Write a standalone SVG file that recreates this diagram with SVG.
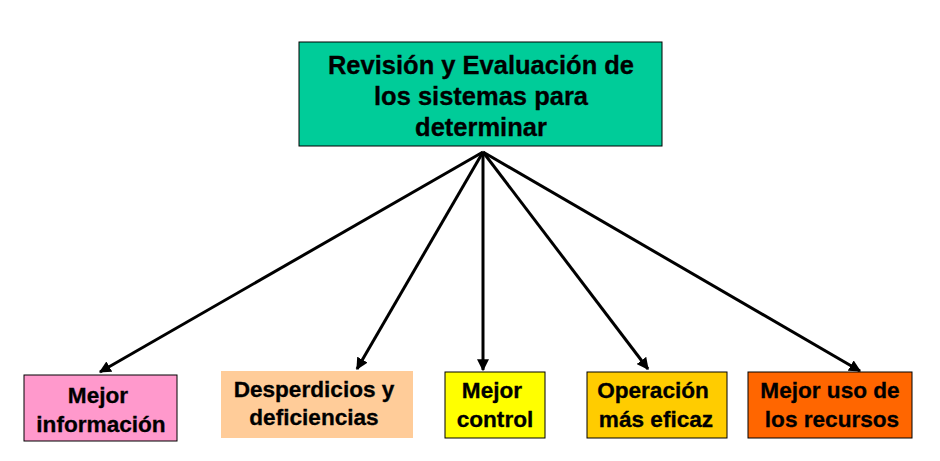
<svg xmlns="http://www.w3.org/2000/svg" width="940" height="461" viewBox="0 0 940 461">
<style>
text{font-family:"Liberation Sans",Arial,sans-serif;font-weight:bold;fill:#000;text-anchor:middle;stroke:#000;stroke-width:0.3}
.t{font-size:25.5px}
.b{font-size:22.6px}
.box{stroke:#000;stroke-width:1}
.c{stroke:#000;stroke-width:3;fill:none;marker-end:url(#ah)}
</style>
<defs>
<marker id="ah" markerWidth="4" markerHeight="4" refX="3.6" refY="2" orient="auto" markerUnits="strokeWidth">
<path d="M0,0 L4,2 L0,4 Z" fill="#000"/>
</marker>
</defs>
<rect width="940" height="461" fill="#fff"/>
<g id="connectors">
<line class="c" x1="483" y1="152" x2="100" y2="372"/>
<line class="c" x1="483" y1="152" x2="357" y2="369"/>
<line class="c" x1="483" y1="152" x2="483" y2="370"/>
<line class="c" x1="483" y1="152" x2="648" y2="369"/>
<line class="c" x1="483" y1="152" x2="860" y2="371"/>
</g>
<g id="top">
<rect class="box" x="299" y="42" width="363" height="104" fill="#00CC99"/>
<text class="t" x="481" y="74">Revisión y Evaluación de</text>
<text class="t" x="481" y="105">los sistemas para</text>
<text class="t" x="481" y="136">determinar</text>
</g>
<g id="n1">
<rect class="box" x="24" y="375" width="153" height="66" fill="#FF99CC"/>
<text class="b" x="98" y="403">Mejor</text>
<text class="b" x="101" y="432">información</text>
</g>
<g id="n2">
<rect x="221" y="371" width="192" height="67" fill="#FFCC99"/>
<text class="b" x="314" y="397">Desperdicios y</text>
<text class="b" x="314" y="425">deficiencias</text>
</g>
<g id="n3">
<rect class="box" x="445" y="372" width="100" height="66" fill="#FFFF00"/>
<text class="b" x="492" y="398">Mejor</text>
<text class="b" x="495" y="427">control</text>
</g>
<g id="n4">
<rect class="box" x="587" y="372" width="140" height="66" fill="#FFCC00"/>
<text class="b" x="653" y="398">Operación</text>
<text class="b" x="656" y="427">más eficaz</text>
</g>
<g id="n5">
<rect class="box" x="748" y="372" width="164" height="66" fill="#FF6600"/>
<text class="b" x="830" y="398">Mejor uso de</text>
<text class="b" x="832" y="427">los recursos</text>
</g>
</svg>
